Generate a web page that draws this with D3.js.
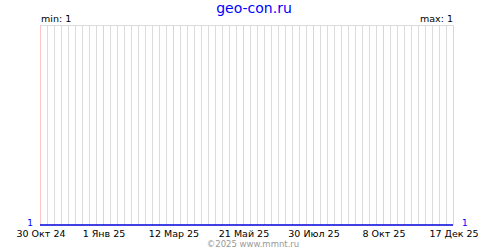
<!DOCTYPE html>
<html>
<head>
<meta charset="utf-8">
<script src="https://cdn.jsdelivr.net/npm/d3@7"></script>
<style>
  body { margin: 0; background: #fff; }
  text { font-family: "DejaVu Sans", sans-serif; }
</style>
</head>
<body>
<div id="chart"></div>
<script>
// series: one flat line, value 1 over the whole period
const dates = ["2024-10-30", "2025-12-17"];
const values = [1, 1];
// labelled ticks (highlighted gridlines)
const tickDates = ["2024-10-30", "2025-01-01", "2025-03-12", "2025-05-21", "2025-07-30", "2025-10-08", "2025-12-17"];
const tickLabels = ["30 Окт 24", "1 Янв 25", "12 Мар 25", "21 Май 25", "30 Июл 25", "8 Окт 25", "17 Дек 25"];
const title = "geo-con.ru";
const footer = "©2025 www.mmnt.ru";

const width = 500, height = 250;
const margin = {top: 25, right: 47, bottom: 25, left: 40};

const parse = d3.utcParse("%Y-%m-%d");
const data = dates.map((d, i) => ({date: parse(d), value: values[i]}));
const ticks = tickDates.map(parse);

const svg = d3.select("#chart").append("svg")
    .attr("width", width)
    .attr("height", height);

const x = d3.scaleUtc()
    .domain(d3.extent(data, d => d.date))
    .range([margin.left, width - margin.right]);

const minV = d3.min(values), maxV = d3.max(values);
// when min == max the line sits on the bottom edge
const y = d3.scaleLinear()
    .domain(minV === maxV ? [minV, minV + 1] : [minV, maxV])
    .range([height - margin.bottom, margin.top]);

// weekly gridlines
const weeks = d3.utcWednesday.range(x.domain()[0], d3.utcDay.offset(x.domain()[1], 1));
const tickSet = new Set(ticks.map(t => +t));

svg.append("g")
  .selectAll("line")
  .data(weeks)
  .join("line")
    .attr("x1", d => Math.round(x(d)) + 0.5)
    .attr("x2", d => Math.round(x(d)) + 0.5)
    .attr("y1", margin.top)
    .attr("y2", height - margin.bottom)
    .attr("stroke", d => tickSet.has(+d) ? "#ffc4c4" : "#dcdcdc")
    .attr("stroke-width", 1);

svg.append("line")
    .attr("x1", margin.left)
    .attr("x2", width - margin.right + 1)
    .attr("y1", margin.top + 0.5)
    .attr("y2", margin.top + 0.5)
    .attr("stroke", "#dcdcdc");

// x axis labels
svg.append("g")
  .selectAll("text")
  .data(ticks)
  .join("text")
    .attr("x", d => x(d) + 1)
    .attr("y", height - margin.bottom + 12)
    .attr("text-anchor", "middle")
    .attr("font-size", 9.5)
    .attr("fill", "#000")
    .text((d, i) => tickLabels[i]);

// series line
const line = d3.line()
    .x(d => x(d.date))
    .y(d => y(d.value));

svg.append("path")
    .datum(data)
    .attr("d", line)
    .attr("fill", "none")
    .attr("stroke", "#0000dd")
    .attr("stroke-width", 1.6);

// value labels at both ends
svg.append("text")
    .attr("x", margin.left - 7)
    .attr("y", y(values[0]) + 1)
    .attr("text-anchor", "end")
    .attr("font-size", 9)
    .attr("fill", "#0000ff")
    .text(values[0]);

svg.append("text")
    .attr("x", width - margin.right + 9)
    .attr("y", y(values[values.length - 1]) + 1)
    .attr("font-size", 9)
    .attr("fill", "#0000ff")
    .text(values[values.length - 1]);

// min / max
svg.append("text")
    .attr("x", margin.left + 1)
    .attr("y", margin.top - 3)
    .attr("font-size", 9.5)
    .attr("fill", "#000")
    .text("min: " + minV);

svg.append("text")
    .attr("x", width - margin.right)
    .attr("y", margin.top - 3)
    .attr("text-anchor", "end")
    .attr("font-size", 9.5)
    .attr("fill", "#000")
    .text("max: " + maxV);

// title and footer
svg.append("text")
    .attr("x", 254)
    .attr("y", 13)
    .attr("text-anchor", "middle")
    .attr("font-size", 14)
    .attr("fill", "#0000ff")
    .text(title);

svg.append("text")
    .attr("x", 253)
    .attr("y", 247)
    .attr("text-anchor", "middle")
    .attr("font-size", 8.5)
    .attr("fill", "#999")
    .text(footer);
</script>
</body>
</html>
